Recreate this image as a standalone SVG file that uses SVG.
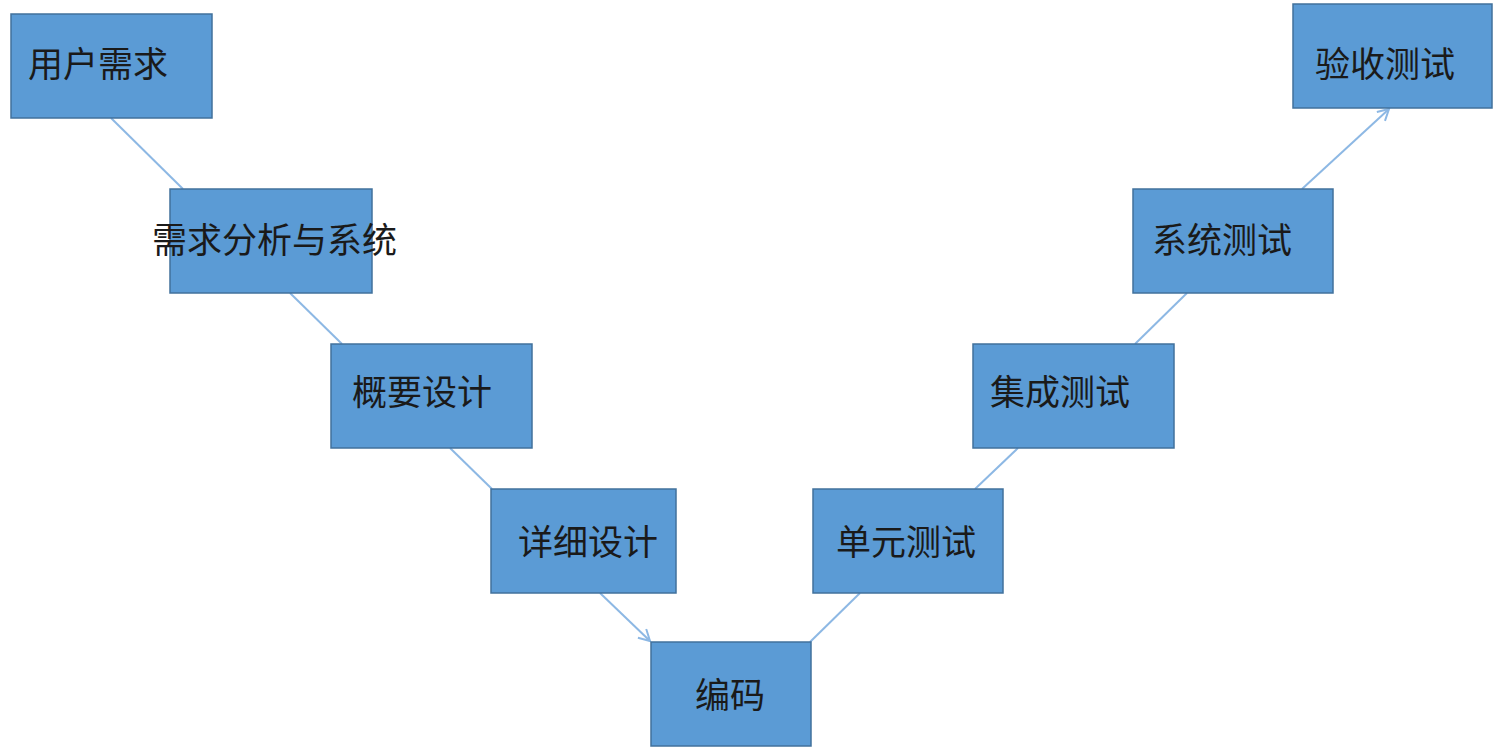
<svg xmlns="http://www.w3.org/2000/svg" width="1501" height="749" viewBox="0 0 1501 749">
<style>
.n rect{fill:#5b9bd5;stroke:#41719c;stroke-width:1.5}
.n text{font-family:"Liberation Serif","Noto Sans CJK SC",serif;font-size:35px;fill:#1a1a1a}
.c line{stroke:#8db8e4;stroke-width:2}
</style>
<defs><marker id="a" markerWidth="14" markerHeight="14" refX="12" refY="7" orient="auto" markerUnits="userSpaceOnUse"><path d="M1,1 L12,7 L1,13" fill="none" stroke="#8db8e4" stroke-width="2"/></marker></defs>
<rect width="1501" height="749" fill="#fff"/>
<g class="c">
<line x1="111" y1="118" x2="183" y2="189"/>
<line x1="290" y1="293" x2="342" y2="344"/>
<line x1="450" y1="448" x2="492" y2="489"/>
<line x1="600" y1="593" x2="650" y2="641" marker-end="url(#a)"/>
<line x1="810" y1="642" x2="860" y2="593"/>
<line x1="975" y1="489" x2="1018" y2="448"/>
<line x1="1135" y1="344" x2="1187" y2="293"/>
<line x1="1302" y1="189" x2="1389" y2="109" marker-end="url(#a)"/>
</g>
<g class="n" id="n1"><rect x="11" y="14" width="201" height="104"/><text x="28" y="77">用户需求</text></g>
<g class="n" id="n2"><rect x="170" y="189" width="202" height="104"/><text x="152" y="253">需求分析与系统</text></g>
<g class="n" id="n3"><rect x="331" y="344" width="201" height="104"/><text x="352" y="405">概要设计</text></g>
<g class="n" id="n4"><rect x="491" y="489" width="185" height="104"/><text x="518" y="555">详细设计</text></g>
<g class="n" id="n5"><rect x="651" y="642" width="160" height="104"/><text x="695" y="708">编码</text></g>
<g class="n" id="n6"><rect x="813" y="489" width="190" height="104"/><text x="836" y="555">单元测试</text></g>
<g class="n" id="n7"><rect x="973" y="344" width="201" height="104"/><text x="990" y="405">集成测试</text></g>
<g class="n" id="n8"><rect x="1133" y="189" width="200" height="104"/><text x="1152" y="253">系统测试</text></g>
<g class="n" id="n9"><rect x="1293" y="4" width="199" height="104"/><text x="1315" y="77">验收测试</text></g>
</svg>
